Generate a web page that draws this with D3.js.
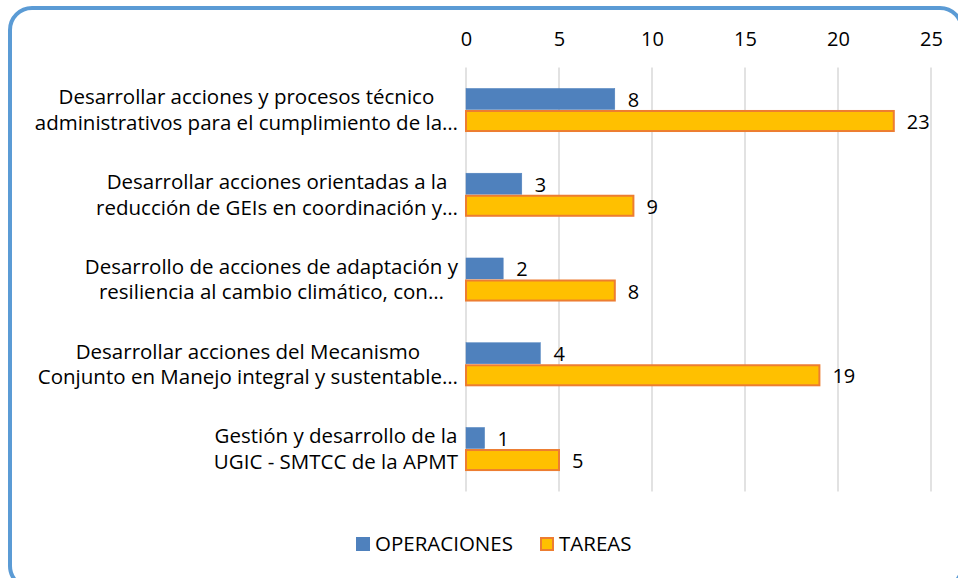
<!DOCTYPE html>
<html>
<head>
<meta charset="utf-8">
<script src="https://cdn.jsdelivr.net/npm/d3@7"></script>
<style>
  body { margin: 0; background: #fff; }
  text { font-family: "Open Sans", sans-serif; fill: #000; }
</style>
</head>
<body>
<div id="chart"></div>
<script>
// Data
let categories = [
	['Desarrollar acciones y procesos técnico', 'administrativos para el cumplimiento de la…'],
	['Desarrollar acciones orientadas a la', 'reducción de GEIs en coordinación y…'],
	['Desarrollo de acciones de adaptación y', 'resiliencia al cambio climático, con…'],
	['Desarrollar acciones del Mecanismo', 'Conjunto en Manejo integral y sustentable…'],
	['Gestión y desarrollo de la', 'UGIC - SMTCC de la APMT']
];
let operaciones = [8, 3, 2, 4, 1];
let tareas = [23, 9, 8, 19, 5];
let seriesNames = ['OPERACIONES', 'TAREAS'];
let xTicks = [0, 5, 10, 15, 20, 25];

let width = 958;
let height = 578;
let fontSize = 20;
let labelFontSize = 20.5;

let svg = d3.select('#chart').append('svg')
		.attr('width', width)
		.attr('height', height);

// Rounded outer frame (runs past the right and bottom edges)
svg.append('rect')
		.attr('x', 10)
		.attr('y', 8)
		.attr('width', 952)
		.attr('height', 580)
		.attr('rx', 22)
		.attr('fill', 'none')
		.attr('stroke', '#5B9BD5')
		.attr('stroke-width', 4);

// Scales
let xScale = d3.scaleLinear().domain([0, 25]).range([466, 931]);
let yScale = d3.scaleBand()
		.domain(d3.range(categories.length))
		.range([67.6, 491.4])
		.paddingInner(0.48)
		.paddingOuter(0.24);
let subScale = d3.scaleBand().domain(seriesNames).range([0, yScale.bandwidth()]);

let colors = { OPERACIONES: '#4F81BD', TAREAS: '#FFC000' };
let strokes = { OPERACIONES: '#4F81BD', TAREAS: '#ED7D31' };

// Gridlines
svg.append('g').selectAll('line').data(xTicks).enter().append('line')
		.attr('x1', d => xScale(d))
		.attr('x2', d => xScale(d))
		.attr('y1', 67.6)
		.attr('y2', 491.4)
		.attr('stroke', '#D9D9D9')
		.attr('stroke-width', 1.5);

// Top axis labels
let axis = svg.append('g')
		.attr('transform', 'translate(0, 46)')
		.call(d3.axisTop(xScale).tickValues(xTicks).tickSize(0).tickPadding(0));
axis.select('.domain').remove();
axis.selectAll('text')
		.style('font-family', '"Open Sans", sans-serif')
		.attr('font-size', fontSize)
		.attr('fill', '#000');

// Bars
let rows = categories.map((c, i) => ({ i: i, OPERACIONES: operaciones[i], TAREAS: tareas[i] }));
let groups = svg.append('g').selectAll('g').data(rows).enter().append('g')
		.attr('transform', d => `translate(0, ${yScale(d.i)})`);

seriesNames.forEach(name => {
	groups.append('rect')
			.attr('x', xScale(0))
			.attr('y', subScale(name) + (name === 'TAREAS' ? 1 : 0.5))
			.attr('width', d => xScale(d[name]) - xScale(0))
			.attr('height', subScale.bandwidth() - (name === 'TAREAS' ? 2 : 1))
			.attr('fill', colors[name])
			.attr('stroke', strokes[name])
			.attr('stroke-width', name === 'TAREAS' ? 2 : 0.5);

	groups.append('text')
			.attr('x', d => xScale(d[name]) + 13)
			.attr('y', subScale(name) + subScale.bandwidth() / 2 + 1)
			.attr('dy', '0.35em')
			.attr('font-size', fontSize)
			.text(d => d[name]);
});

// Category labels: two lines, centred inside a block that sits against the axis
let labelRight = 458;
let labelGroups = svg.append('g').selectAll('g').data(categories).enter().append('g')
		.attr('transform', (d, i) => `translate(0, ${yScale(i) + yScale.bandwidth() / 2})`);
labelGroups.each(function(lines) {
	let g = d3.select(this);
	let texts = lines.map((line, k) => g.append('text')
			.attr('y', (k - 0.5) * 25.5)
			.attr('dy', '0.35em')
			.attr('font-size', labelFontSize)
			.attr('text-anchor', 'middle')
			.text(line));
	let maxW = d3.max(texts, t => t.node().getComputedTextLength());
	texts.forEach(t => t.attr('x', labelRight - maxW / 2));
});

// Legend
let legend = svg.append('g').attr('transform', 'translate(356, 544)');
let legendX = { OPERACIONES: 0, TAREAS: 184 };
seriesNames.forEach(name => {
	legend.append('rect')
			.attr('x', legendX[name] + (name === 'TAREAS' ? 1 : 0))
			.attr('y', name === 'TAREAS' ? -6 : -7)
			.attr('width', name === 'TAREAS' ? 12 : 14)
			.attr('height', name === 'TAREAS' ? 12 : 14)
			.attr('fill', colors[name])
			.attr('stroke', strokes[name])
			.attr('stroke-width', name === 'TAREAS' ? 2 : 0);
	legend.append('text')
			.attr('x', legendX[name] + 19)
			.attr('dy', '0.35em')
			.attr('font-size', 20.5)
			.text(name);
});
</script>
</body>
</html>
